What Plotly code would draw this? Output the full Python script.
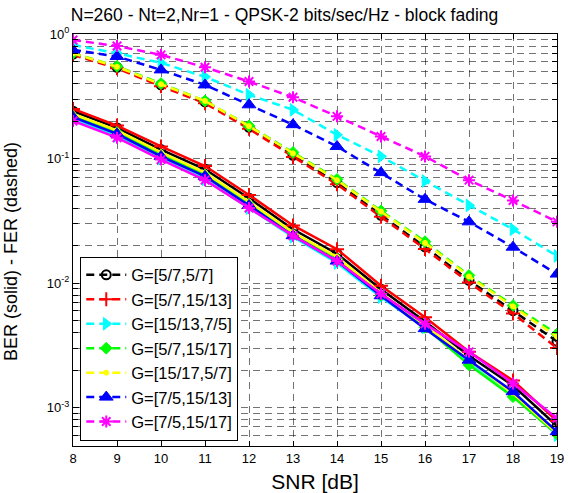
import plotly.graph_objects as go

snr = [8, 9, 10, 11, 12, 13, 14, 15, 16, 17, 18, 19]

codes = ["G=[5/7,5/7]", "G=[5/7,15/13]", "G=[15/13,7/5]", "G=[5/7,15/17]",
         "G=[15/17,5/7]", "G=[7/5,15/13]", "G=[7/5,15/17]"]
colors = ["#000000", "#ff0000", "#00ffff", "#00ff00", "#ffff00", "#0000ff", "#ff00ff"]
symbols = ["circle-open", "cross-thin-open", "triangle-right", "diamond",
           "circle", "triangle-up", "asterisk-open"]
msizes = [9, 10, 11, 9, 5, 12, 10]

# Frame error rate (dashed)
fer_57_57 = [0.69, 0.54, 0.39, 0.285, 0.178, 0.106, 0.064, 0.035, 0.0195, 0.0105, 0.0060, 0.0034]
fer_57_1513 = [0.68, 0.53, 0.38, 0.278, 0.173, 0.103, 0.062, 0.034, 0.0188, 0.0101, 0.0057, 0.0030]
fer_1513_75 = [0.816, 0.70, 0.586, 0.453, 0.325, 0.246, 0.155, 0.104, 0.066, 0.042, 0.027, 0.0165]
fer_57_1517 = [0.70, 0.55, 0.40, 0.29, 0.183, 0.112, 0.068, 0.038, 0.0215, 0.0115, 0.0066, 0.0039]
fer_1517_57 = [0.70, 0.545, 0.395, 0.29, 0.182, 0.110, 0.067, 0.0375, 0.021, 0.0113, 0.0065, 0.0037]
fer_75_1513 = [0.745, 0.66, 0.515, 0.39, 0.27, 0.187, 0.125, 0.077, 0.047, 0.031, 0.0194, 0.0118]
fer_75_1517 = [0.895, 0.80, 0.68, 0.54, 0.415, 0.31, 0.218, 0.15, 0.104, 0.067, 0.046, 0.031]

# Bit error rate (solid)
ber_57_57 = [0.24, 0.176, 0.118, 0.082, 0.048, 0.027, 0.0172, 0.0089, 0.0049, 0.0026, 0.0015, 0.00071]
ber_57_1513 = [0.25, 0.184, 0.125, 0.087, 0.051, 0.029, 0.0187, 0.0095, 0.0053, 0.0028, 0.00165, 0.00078]
ber_1513_75 = [0.205, 0.152, 0.100, 0.068, 0.040, 0.0235, 0.0145, 0.0077, 0.0044, 0.0023, 0.0013, 0.00060]
ber_57_1517 = [0.218, 0.162, 0.107, 0.074, 0.043, 0.0245, 0.0155, 0.0080, 0.0044, 0.0022, 0.00122, 0.00061]
ber_1517_57 = [0.228, 0.168, 0.112, 0.077, 0.045, 0.0255, 0.0162, 0.0083, 0.0046, 0.0024, 0.0013, 0.00062]
ber_75_1513 = [0.215, 0.158, 0.104, 0.072, 0.042, 0.0240, 0.0150, 0.0079, 0.0043, 0.0024, 0.00134, 0.00064]
ber_75_1517 = [0.200, 0.147, 0.098, 0.067, 0.040, 0.0240, 0.0150, 0.0082, 0.0047, 0.0028, 0.00156, 0.00082]

fer = [fer_57_57, fer_57_1513, fer_1513_75, fer_57_1517, fer_1517_57, fer_75_1513, fer_75_1517]
ber = [ber_57_57, ber_57_1513, ber_1513_75, ber_57_1517, ber_1517_57, ber_75_1513, ber_75_1517]

ytick_vals = [1e-3, 1e-2, 1e-1, 1e0]
ytick_text = ["10<sup>-3</sup>", "10<sup>-2</sup>", "10<sup>-1</sup>", "10<sup>0</sup>"]
minor_vals = [m * 10.0 ** e for e in (-4, -3, -2, -1) for m in range(2, 10)]

title_text = "N=260 - Nt=2,Nr=1 - QPSK-2 bits/sec/Hz - block fading"
ylabel_text = "BER (solid) - FER (dashed)"

fig = go.Figure()

def marker_for(i):
    sym = symbols[i]
    return dict(symbol=sym, size=msizes[i], color=colors[i],
                line=dict(color=colors[i], width=2 if sym.endswith("open") else 1))

# solid BER curves (no legend)
for i in range(len(codes)):
    fig.add_trace(go.Scatter(
        x=snr, y=ber[i], mode="lines+markers", name=codes[i],
        legendgroup=codes[i], showlegend=False,
        line=dict(color=colors[i], width=2.5, dash="solid"),
        marker=marker_for(i)))

# dashed FER curves (legend)
for i in range(len(codes)):
    fig.add_trace(go.Scatter(
        x=snr, y=fer[i], mode="lines+markers", name=codes[i],
        legendgroup=codes[i], showlegend=True,
        line=dict(color=colors[i], width=2.5, dash="8px,5px"),
        marker=marker_for(i)))

L, R, T, B = 73, 12, 34, 47
W, H = 569, 493
pw, ph = W - L - R, H - T - B

grid_col = "rgba(0,0,0,0.55)"

fig.update_layout(
    width=W, height=H,
    margin=dict(l=L, r=R, t=T, b=B, autoexpand=False),
    paper_bgcolor="white", plot_bgcolor="white",
    font=dict(family="Liberation Sans, Arial, sans-serif", color="black", size=13),
    title=dict(text=title_text, x=0.5, xref="container", xanchor="center",
               y=1 - 15 / H, yref="container", yanchor="middle",
               font=dict(size=17.5)),
    showlegend=True,
    legend=dict(x=0.015, y=0.013, xanchor="left", yanchor="bottom",
                bgcolor="white", bordercolor="black", borderwidth=1,
                font=dict(size=16.5), itemwidth=40, tracegroupgap=0,
                traceorder="normal"),
    xaxis=dict(range=[8, 19], tickmode="linear", tick0=8, dtick=1,
               automargin=False,
               showline=True, linecolor="black", linewidth=1, mirror="ticks",
               ticks="inside", ticklen=5, tickcolor="black",
               showgrid=True, gridcolor=grid_col, griddash="7px,5px", gridwidth=1,
               zeroline=False, tickfont=dict(size=13),
               title=dict(text="SNR [dB]", font=dict(size=21), standoff=9)),
    yaxis=dict(type="log", range=[-3.309, 0], automargin=False,
               tickmode="array", tickvals=ytick_vals, ticktext=ytick_text,
               showline=True, linecolor="black", linewidth=1, mirror="ticks",
               ticks="inside", ticklen=6, tickcolor="black",
               showgrid=True, gridcolor=grid_col, griddash="7px,5px", gridwidth=1,
               zeroline=False, tickfont=dict(size=13),
               minor=dict(tickmode="array", tickvals=minor_vals, ticks="inside",
                          ticklen=5, tickcolor="black", showgrid=True,
                          gridcolor=grid_col, griddash="7px,5px", gridwidth=1)),
)

# y-axis label (rotated text)
fig.add_annotation(text=ylabel_text, xref="paper", yref="paper",
                   x=(11 - L) / pw, y=(H - B - 252) / ph,
                   xanchor="center", yanchor="middle", showarrow=False,
                   textangle=-90, font=dict(size=18, color="black"))

fig.write_html("out.html")
